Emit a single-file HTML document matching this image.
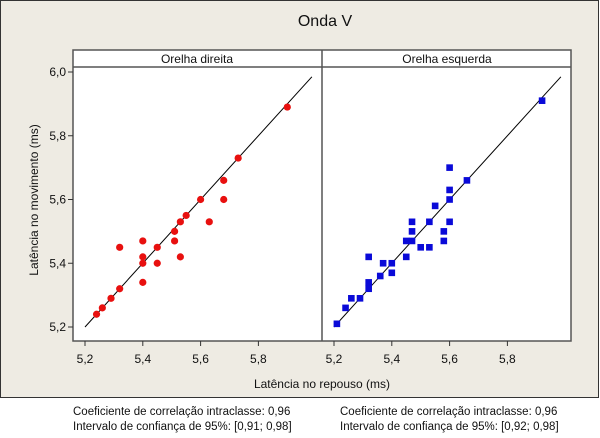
<!DOCTYPE html>
<html><head><meta charset="utf-8"><style>
body{margin:0;background:#fff;width:600px;height:433px;overflow:hidden;font-family:"Liberation Sans",sans-serif}
svg text{font-family:"Liberation Sans",sans-serif;fill:#111}
</style></head><body>
<svg id="c" width="600" height="433">
<rect x="0.5" y="0.5" width="598" height="397" fill="#eeebe3" stroke="#333"/>
<text x="325" y="26" font-size="16" text-anchor="middle">Onda V</text>
<rect x="73" y="50" width="498" height="291" fill="#fff" stroke="#555" stroke-width="1.5"/>
<line x1="73" y1="67" x2="571" y2="67" stroke="#555" stroke-width="1.5"/>
<line x1="322" y1="50" x2="322" y2="341" stroke="#555" stroke-width="1.5"/>
<text x="197" y="63" font-size="12" text-anchor="middle">Orelha direita</text>
<text x="447" y="63" font-size="12" text-anchor="middle">Orelha esquerda</text>
<text transform="translate(38,200) rotate(-90)" font-size="12" text-anchor="middle">Latência no movimento (ms)</text>
<text x="322" y="388" font-size="12" text-anchor="middle">Latência no repouso (ms)</text>
<g id="axes"></g><g id="marks"></g>
<text x="73" y="415" font-size="11.5">Coeficiente de correlação intraclasse: 0,96</text>
<text x="73" y="430" font-size="11.5">Intervalo de confiança de 95%: [0,91; 0,98]</text>
<text x="340" y="415" font-size="11.5">Coeficiente de correlação intraclasse: 0,96</text>
<text x="340" y="430" font-size="11.5">Intervalo de confiança de 95%: [0,92; 0,98]</text>
</svg>
<script>
const xTicks=[5.2,5.4,5.6,5.8];
const yTicks=[5.2,5.4,5.6,5.8,6.0];
const rightX=[5.24,5.26,5.29,5.32,5.32,5.40,5.40,5.40,5.40,5.45,5.45,5.51,5.51,5.53,5.53,5.55,5.60,5.63,5.68,5.68,5.73,5.90];
const rightY=[5.24,5.26,5.29,5.32,5.45,5.47,5.42,5.40,5.34,5.45,5.40,5.50,5.47,5.53,5.42,5.55,5.60,5.53,5.66,5.60,5.73,5.89];
const leftX=[5.21,5.24,5.26,5.29,5.32,5.32,5.32,5.36,5.37,5.40,5.40,5.45,5.45,5.47,5.47,5.47,5.50,5.53,5.53,5.55,5.58,5.58,5.60,5.60,5.60,5.60,5.66,5.92];
const leftY=[5.21,5.26,5.29,5.29,5.32,5.34,5.42,5.36,5.40,5.40,5.37,5.42,5.47,5.47,5.50,5.53,5.45,5.45,5.53,5.58,5.50,5.47,5.53,5.60,5.63,5.70,5.66,5.91];
const lineRange=[5.2,5.985];
const NS="http://www.w3.org/2000/svg";
const sx0=v=>85+(v-5.2)*289, sx1=v=>334+(v-5.2)*289, sy=v=>327-(v-5.2)*318.75;
const axes=document.getElementById('axes'), marks=document.getElementById('marks');
function mk(tag,attrs,parent){const e=document.createElementNS(NS,tag);for(const k in attrs)e.setAttribute(k,attrs[k]);parent.appendChild(e);return e;}
const fmt=v=>v.toFixed(1).replace('.',',');
[sx0,sx1].forEach((sx,p)=>{
  xTicks.forEach(t=>{
    const l=mk('line',{x1:sx(t),x2:sx(t),y1:341,y2:346,stroke:'#333'},axes);
    
    
    const tx=mk('text',{x:sx(t),y:363,'font-size':12,'text-anchor':'middle'},axes);
    tx.textContent=fmt(t);
    
    
  });
  const ln=mk('line',{x1:sx(lineRange[0]),y1:sy(lineRange[0]),x2:sx(lineRange[1]),y2:sy(lineRange[1]),stroke:'#000','stroke-width':1},marks);
  
  
});
yTicks.forEach(t=>{
  const l=mk('line',{x1:68,x2:73,y1:sy(t),y2:sy(t),stroke:'#333'},axes);
  
  
  const tx=mk('text',{x:66,y:sy(t)+4,'font-size':12,'text-anchor':'end'},axes);
  tx.textContent=fmt(t);
  
  
});
rightX.forEach((v,i)=>{
  const c=mk('circle',{cx:sx0(v),cy:sy(rightY[i]),r:3.6,fill:'#e8100f'},marks);
  
  
});
leftX.forEach((v,i)=>{
  const r=mk('rect',{x:sx1(v)-3.3,y:sy(leftY[i])-3.3,width:6.6,height:6.6,fill:'#0a0ad8'},marks);
  
  
});
</script>
</body></html>
